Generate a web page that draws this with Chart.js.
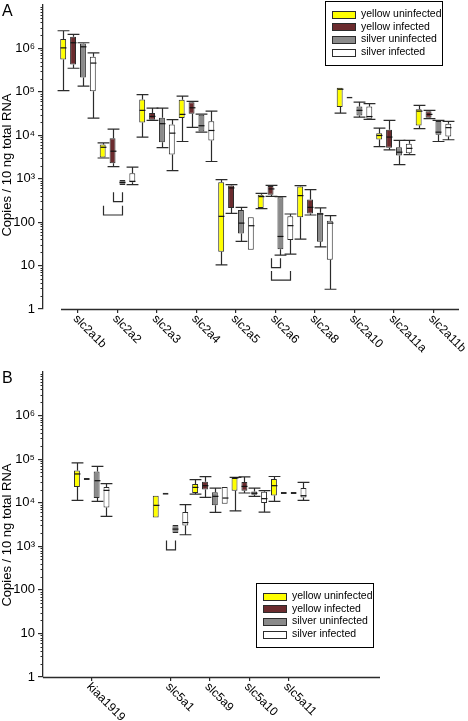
<!DOCTYPE html>
<html><head><meta charset="utf-8">
<script src="https://cdn.jsdelivr.net/npm/chart.js@4.4.1/dist/chart.umd.min.js"></script>
<style>
html,body{margin:0;padding:0;background:#fff;width:468px;height:721px;overflow:hidden}
#wa{position:absolute;left:0;top:0;width:468px;height:365px}
#wb{position:absolute;left:0;top:365px;width:468px;height:356px}
canvas{display:block}
</style></head><body>
<div id="wa"><canvas id="ca" width="468" height="365"></canvas></div>
<div id="wb"><canvas id="cb" width="468" height="356"></canvas></div>
<script>
// ---------- data ----------
const seriesNames = ['yellow uninfected', 'yellow infected', 'silver uninfected', 'silver infected'];
const yTickValues = [1, 10, 100, 1e3, 1e4, 1e5, 1e6];
const yTickLabels = ['1', '10', '100', '10³', '10⁴', '10⁵', '10⁶'];
const yAxisTitle = 'Copies / 10 ng total RNA';

// Panel A: each entry = [min, q1, median, q3, max]
const categoriesA = ['slc2a1b', 'slc2a2', 'slc2a3', 'slc2a4', 'slc2a5', 'slc2a6', 'slc2a8', 'slc2a10', 'slc2a11a', 'slc2a11b'];
const yellowUninfectedA = [
  [1.07e5, 5.56e5, 1.03e6, 1.64e6, 2.55e6],
  [3.0e3, 3.1e3, 5.3e3, 6.1e3, 6.7e3],
  [9.1e3, 1.98e4, 3.75e4, 6.7e4, 8.6e4],
  [7.2e3, 2.49e4, 3.03e4, 6.6e4, 8.0e4],
  [10.4, 20.7, 136, 828, 955],
  [204, 212, 387, 430, 461],
  [40.8, 129, 408, 658, 694],
  [3.25e4, 4.47e4, 1.15e5, 1.25e5, 1.29e5],
  [5.5e3, 8.0e3, 9.9e3, 1.12e4, 1.46e4],
  [1.42e4, 1.69e4, 3.6e4, 4.0e4, 4.9e4]
];
const yellowInfectedA = [
  [3.5e5, 4.26e5, 1.35e6, 1.86e6, 2.1e6],
  [1.9e3, 2.27e3, 4.3e3, 8.6e3, 1.39e4],
  [2.2e4, 2.29e4, 2.72e4, 3.25e4, 4.2e4],
  [1.52e4, 3.14e4, 4.3e4, 5.8e4, 6.05e4],
  [159, 212, 614, 694, 731],
  [393, 430, 582, 682, 706],
  [146, 159, 219, 330, 561],
  [7.05e4, 7.05e4, 7.4e4, 7.75e4, 7.75e4],
  [4.6e3, 5.15e3, 9.1e3, 1.34e4, 2.2e4],
  [2.41e4, 2.54e4, 3.03e4, 3.56e4, 3.75e4]
];
const silverUninfectedA = [
  [1.36e5, 2.14e5, 1.09e6, 1.30e6, 1.35e6],
  [700, 720, 820, 930, 960],
  [5.2e3, 6.9e3, 1.85e4, 2.54e4, 4.2e4],
  [1.18e4, 1.23e4, 1.66e4, 2.97e4, 3.08e4],
  [35.9, 55, 95, 190, 219],
  [17.4, 23.9, 46.8, 372, 387],
  [27, 35.3, 154, 165, 212],
  [2.63e4, 2.87e4, 3.75e4, 4.6e4, 5.8e4],
  [2.12e3, 3.42e3, 4.08e3, 5.3e3, 7.6e3],
  [7.2e3, 1.03e4, 1.18e4, 2.12e4, 2.2e4]
];
const silverInfectedA = [
  [2.49e4, 1.03e5, 4.6e5, 6.4e5, 7.9e5],
  [731, 827, 870, 1.33e3, 1.84e3],
  [1.54e3, 3.6e3, 1.12e4, 1.78e4, 2.29e4],
  [2.49e3, 7.6e3, 1.29e4, 2.1e4, 3.6e4],
  [23, 23, 82.7, 129, 129],
  [18.4, 38.6, 83, 136, 154],
  [2.85, 13.6, 95, 108, 141],
  [2.32e4, 2.41e4, 2.7e4, 4.6e4, 5.35e4],
  [3.6e3, 3.87e3, 5.0e3, 6.4e3, 7.6e3],
  [7.9e3, 9.4e3, 1.5e4, 1.85e4, 2.09e4]
];
// significance brackets: category index, series from/to, low/high value
const bracketsA = [
  {category: 1, from: 0, to: 2, low: 146, high: 240},
  {category: 1, from: 1, to: 2, low: 296, high: 486},
  {category: 5, from: 1, to: 2, low: 9.0, high: 14.8},
  {category: 5, from: 1, to: 3, low: 4.6, high: 7.5}
];

// Panel B ('' = empty slot)
const categoriesB = ['kiaa1919', '', 'slc5a1', 'slc5a9', 'slc5a10', 'slc5a11'];
const yellowUninfectedB = [
  [1.13e4, 2.3e4, 4.57e4, 5.5e4, 8.2e4],
  null,
  [4.6e3, 4.6e3, 8.7e3, 1.45e4, 1.45e4],
  [1.58e4, 1.67e4, 2.25e4, 2.69e4, 3.38e4],
  [6.5e3, 1.89e4, 3.7e4, 3.7e4, 3.82e4],
  [1.07e4, 1.47e4, 2.46e4, 3.5e4, 4.0e4]
];
const yellowInfectedB = [
  [3.33e4, 3.33e4, 3.5e4, 3.67e4, 3.67e4],
  null,
  [1.53e4, 1.53e4, 1.61e4, 1.69e4, 1.69e4],
  [1.32e4, 2.0e4, 2.46e4, 3.04e4, 3.96e4],
  [1.67e4, 1.89e4, 2.37e4, 2.99e4, 3.9e4],
  [1.59e4, 1.59e4, 1.67e4, 1.75e4, 1.75e4]
];
const silverUninfectedB = [
  [1.07e4, 1.28e4, 3.2e4, 5.2e4, 6.8e4],
  null,
  [2.01e3, 2.01e3, 2.48e3, 3.07e3, 3.07e3],
  [6.0e3, 8.7e3, 1.4e4, 1.73e4, 2.17e4],
  [1.4e4, 1.53e4, 1.65e4, 1.82e4, 2.17e4],
  [1.59e4, 1.59e4, 1.67e4, 1.75e4, 1.75e4]
];
const silverInfectedB = [
  [4.84e3, 7.8e3, 1.92e4, 2.3e4, 2.73e4],
  null,
  [1.84e3, 3.0e3, 3.5e3, 6.1e3, 9.0e3],
  [9.5e3, 9.5e3, 1.28e4, 2.3e4, 2.37e4],
  [6.1e3, 9.8e3, 1.24e4, 1.79e4, 1.89e4],
  [1.13e4, 1.32e4, 1.45e4, 2.17e4, 2.93e4]
];
const bracketsB = [
  {category: 2, from: 1, to: 2, low: 831, high: 1360}
];

// ---------- styling ----------
const seriesColors = ['#ffff00', '#6b2b2e', '#8a8a8a', '#ffffff'];
const lineColor = '#2b2b2b';
const FONT = '"Liberation Sans", Arial, Helvetica, sans-serif';

function makeDatasets(seriesList) {
  return seriesList.map((vals, s) => ({
    label: seriesNames[s],
    backgroundColor: seriesColors[s],
    borderColor: lineColor,
    borderWidth: 1,
    borderSkipped: false,
    barPercentage: 0.6,
    categoryPercentage: 1.0,
    data: vals.map((v, i) => v ? {x: i, y: [v[1], v[3]], stats: v} : null).filter(Boolean)
  }));
}

const decorPlugin = {
  id: 'decor',
  afterDatasetsDraw(chart, args, o) {
    const ctx = chart.ctx, ys = chart.scales.y;
    ctx.save();
    ctx.strokeStyle = lineColor;
    ctx.lineWidth = 1.2;
    chart.data.datasets.forEach((ds, di) => {
      const meta = chart.getDatasetMeta(di);
      meta.data.forEach((el, j) => {
        const st = ds.data[j].stats;
        const p = el.getProps(['x', 'width'], true);
        const x = Math.round(p.x) + 0.5, w = p.width;
        const pMin = ys.getPixelForValue(st[0]), pQ1 = ys.getPixelForValue(st[1]);
        const pMed = ys.getPixelForValue(st[2]), pQ3 = ys.getPixelForValue(st[3]);
        const pMax = ys.getPixelForValue(st[4]);
        ctx.beginPath();
        if (pQ3 - pMax > 0.6) {
          ctx.moveTo(x, pQ3); ctx.lineTo(x, pMax);
          ctx.moveTo(x - w, pMax); ctx.lineTo(x + w, pMax);
        }
        if (pMin - pQ1 > 0.6) {
          ctx.moveTo(x, pQ1); ctx.lineTo(x, pMin);
          ctx.moveTo(x - w, pMin); ctx.lineTo(x + w, pMin);
        }
        ctx.stroke();
        if (pQ1 - pQ3 > 3) {
          ctx.beginPath();
          ctx.strokeStyle = '#111';
          ctx.moveTo(x - w / 2, pMed); ctx.lineTo(x + w / 2, pMed);
          ctx.stroke();
          ctx.strokeStyle = lineColor;
        }
      });
    });
    // brackets
    (o.brackets || []).forEach(b => {
      const px = (s) => {
        const ds = chart.data.datasets[s];
        const j = ds.data.findIndex(d => d.x === b.category);
        return chart.getDatasetMeta(s).data[j].x;
      };
      const x1 = Math.round(px(b.from)) + 0.5, x2 = Math.round(px(b.to)) + 0.5;
      const yl = ys.getPixelForValue(b.low), yh = ys.getPixelForValue(b.high);
      ctx.beginPath();
      ctx.moveTo(x1, yh); ctx.lineTo(x1, yl); ctx.lineTo(x2, yl); ctx.lineTo(x2, yh);
      ctx.stroke();
    });
    ctx.restore();
  },
  afterDraw(chart, args, o) {
    const ctx = chart.ctx, xs = chart.scales.x, ys = chart.scales.y, ca = chart.chartArea;
    ctx.save();
    ctx.strokeStyle = lineColor;
    // minor y ticks
    ctx.lineWidth = 1;
    ctx.beginPath();
    for (let d = 0; d < 7; d++) {
      for (let k = 2; k <= 9; k++) {
        const py = Math.round(ys.getPixelForValue(k * Math.pow(10, d))) + 0.5;
        ctx.moveTo(ca.left - 2.5, py); ctx.lineTo(ca.left, py);
      }
    }
    ctx.stroke();
    // x axis line
    ctx.lineWidth = 1.3;
    ctx.beginPath();
    const xStart = o.axisStart === undefined ? ca.left : xs.getPixelForValue(o.axisStart);
    ctx.moveTo(xStart, ca.bottom + 0.5); ctx.lineTo(ca.right, ca.bottom + 0.5);
    ctx.stroke();
    // x labels, rotated
    ctx.fillStyle = '#000';
    ctx.font = '12px ' + FONT;
    ctx.textAlign = 'left';
    ctx.textBaseline = 'middle';
    xs.ticks.forEach(t => {
      const px = xs.getPixelForValue(t.value);
      ctx.save();
      ctx.translate(px - 3, ca.bottom + 8);
      ctx.rotate(Math.PI / 4);
      ctx.fillText(o.categories[t.value], 0, 0);
      ctx.restore();
    });
    // y title
    ctx.font = '13px ' + FONT;
    ctx.save();
    ctx.translate(7, o.titleY);
    ctx.rotate(-Math.PI / 2);
    ctx.textAlign = 'center';
    ctx.textBaseline = 'middle';
    ctx.fillText(yAxisTitle, 0, 0);
    ctx.restore();
    // panel letter
    ctx.font = '16px ' + FONT;
    ctx.textAlign = 'left';
    ctx.textBaseline = 'alphabetic';
    ctx.fillText(o.letter, 2, o.letterY);
    // legend
    const L = o.legend;
    ctx.lineWidth = 1;
    ctx.strokeStyle = '#000';
    ctx.strokeRect(L.left + 0.5, L.top + 0.5, 117, 64);
    ctx.font = '10.5px ' + FONT;
    ctx.textBaseline = 'middle';
    chart.data.datasets.forEach((ds, i) => {
      const ry = L.top + 13 + i * 12.7;
      ctx.fillStyle = ds.backgroundColor;
      ctx.fillRect(L.left + 7, Math.round(ry - 3.5), 23, 7);
      ctx.strokeStyle = lineColor;
      ctx.strokeRect(L.left + 7.5, Math.round(ry - 3.5) + 0.5, 23, 7);
      ctx.fillStyle = '#000';
      ctx.fillText(ds.label, L.left + 36, ry);
    });
    ctx.restore();
  }
};

function makeChart(canvasId, categories, seriesList, cfg) {
  return new Chart(document.getElementById(canvasId), {
    type: 'bar',
    data: {datasets: makeDatasets(seriesList)},
    plugins: [decorPlugin],
    options: {
      responsive: false,
      animation: false,
      devicePixelRatio: 1,
      layout: {padding: cfg.padding},
      plugins: {
        legend: {display: false},
        tooltip: {enabled: false},
        decor: {
          categories: categories,
          brackets: cfg.brackets,
          axisStart: cfg.axisStart,
          titleY: cfg.titleY,
          letter: cfg.letter,
          letterY: cfg.letterY,
          legend: cfg.legend
        }
      },
      scales: {
        x: {
          type: 'linear',
          offset: false,
          min: cfg.xMin,
          max: cfg.xMax,
          afterBuildTicks: s => {
            s.ticks = categories.map((c, i) => c ? {value: i} : null).filter(Boolean);
          },
          afterFit: s => { s.height = cfg.xHeight; s.paddingLeft = 0; s.paddingRight = 0; },
          ticks: {display: false},
          grid: {display: true, offset: false, drawOnChartArea: false, drawTicks: true, tickLength: 4, color: lineColor, lineWidth: 1.2},
          border: {display: false}
        },
        y: {
          type: 'logarithmic',
          min: 1,
          max: 1e7,
          afterBuildTicks: s => { s.ticks = yTickValues.map(v => ({value: v})); },
          afterFit: s => { s.width = 43; s.paddingTop = 0; s.paddingBottom = 0; },
          ticks: {
            autoSkip: false,
            padding: 3,
            color: '#000',
            font: {size: 13, family: FONT},
            callback: (v) => yTickLabels[yTickValues.indexOf(v)]
          },
          grid: {display: true, drawOnChartArea: false, drawTicks: true, tickLength: 5, color: lineColor, lineWidth: 1.2},
          border: {display: true, color: lineColor, width: 1.3}
        }
      }
    }
  });
}

makeChart('ca', categoriesA, [yellowUninfectedA, yellowInfectedA, silverUninfectedA, silverInfectedA], {
  padding: {left: 0, top: 5, right: 9, bottom: 0},
  xHeight: 56, xMin: -0.886, xMax: 9.646, axisStart: -0.43,
  brackets: bracketsA, titleY: 165, letter: 'A', letterY: 16,
  legend: {left: 325, top: 1}
});
makeChart('cb', categoriesB, [yellowUninfectedB, yellowInfectedB, silverUninfectedB, silverInfectedB], {
  padding: {left: 0, top: 7, right: 88, bottom: 0},
  xHeight: 44, xMin: -1.236, xMax: 7.317,
  brackets: bracketsB, titleY: 170, letter: 'B', letterY: 18,
  legend: {left: 256, top: 218}
});
</script>
</body></html>
